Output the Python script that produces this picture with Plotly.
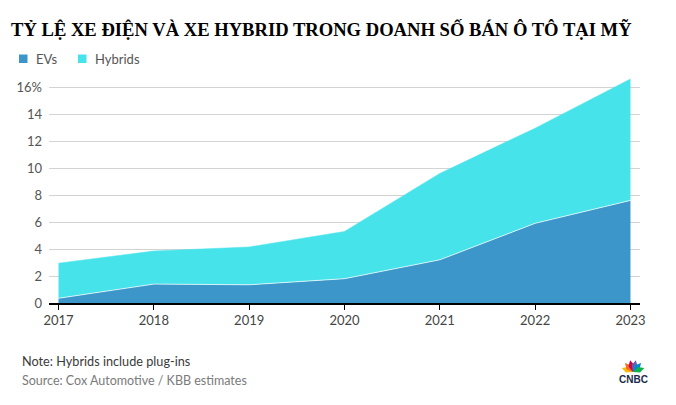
import plotly.graph_objects as go
import math

years = [2017, 2018, 2019, 2020, 2021, 2022, 2023]
evs = [0.35, 1.4, 1.35, 1.8, 3.2, 5.9, 7.6]
hybrids = [2.6, 2.45, 2.8, 3.5, 6.4, 7.05, 9.0]
series_names = ["EVs", "Hybrids"]
series_colors = ["#3c96c9", "#47e3eb"]
y_ticks = [0, 2, 4, 6, 8, 10, 12, 14, 16]
y_ticktext = ["0", "2", "4", "6", "8", "10", "12", "14", "16%"]
title_text = "TỶ LỆ XE ĐIỆN VÀ XE HYBRID TRONG DOANH SỐ BÁN Ô TÔ TẠI MỸ"
note_text = "Note: Hybrids include plug-ins"
source_text = "Source: Cox Automotive / KBB estimates"

W, H = 676, 405
L, R, T, B = 49, 640, 73, 303  # plot area pixels


def px(x):
    return (x - L) / (R - L)


def py(y):
    return (B - y) / (B - T)


fig = go.Figure()
fig.add_trace(go.Scatter(
    x=years, y=evs, name=series_names[0], stackgroup="one", mode="lines",
    line=dict(color="rgba(255,255,255,0.7)", width=1),
    fillcolor=series_colors[0], showlegend=False, hoverinfo="skip"))
fig.add_trace(go.Scatter(
    x=years, y=hybrids, name=series_names[1], stackgroup="one", mode="lines",
    line=dict(color=series_colors[1], width=0.5),
    fillcolor=series_colors[1], showlegend=False, hoverinfo="skip"))

shapes = []
annotations = []
# legend
leg = [(19, 34, series_names[0], series_colors[0]), (78, 93, series_names[1], series_colors[1])]
for sx, tx, name, col in leg:
    shapes.append(dict(type="rect", xref="paper", yref="paper",
                       x0=px(sx), x1=px(sx + 8.5), y0=py(63), y1=py(54.5),
                       fillcolor=col, line=dict(width=0)))
    annotations.append(dict(text=name, xref="paper", yref="paper", x=px(tx), y=py(58.5),
                            xanchor="left", yanchor="middle", showarrow=False,
                            font=dict(family="Lato", size=13, color="#555555")))

annotations.append(dict(text=note_text, xref="paper", yref="paper", x=px(20), y=py(361),
                        xanchor="left", yanchor="middle", showarrow=False,
                        font=dict(family="Lato", size=12.7, color="#3a3a3a")))
annotations.append(dict(text=source_text, xref="paper", yref="paper", x=px(20), y=py(380),
                        xanchor="left", yanchor="middle", showarrow=False,
                        font=dict(family="Lato", size=12.5, color="#7a7a7a")))
# CNBC logo (text + feathers)
annotations.append(dict(text="<b>CNBC</b>", xref="paper", yref="paper", x=px(633), y=py(379.5),
                        xanchor="center", yanchor="middle", showarrow=False,
                        font=dict(family="Liberation Sans", size=10, color="#1a2a4a")))
feather_cols = ["#fcb711", "#f37021", "#cc004c", "#6460aa", "#0089d0", "#0db14b"]
cx, cy = 633, 372
for i, col in enumerate(feather_cols):
    ang = math.radians(160 - i * 28)
    ex, ey = cx + 12 * math.cos(ang), cy - 12 * math.sin(ang)
    nx, ny = -math.sin(ang) * 3, -math.cos(ang) * 3
    path = "M {} {} L {} {} L {} {} L {} {} Z".format(
        px(cx), py(cy),
        px(cx + 6.5 * math.cos(ang) + nx), py(cy - 6.5 * math.sin(ang) + ny),
        px(ex), py(ey),
        px(cx + 6.5 * math.cos(ang) - nx), py(cy - 6.5 * math.sin(ang) - ny))
    shapes.append(dict(type="path", xref="paper", yref="paper", path=path,
                       fillcolor=col, line=dict(width=0)))

fig.update_layout(
    width=W, height=H,
    margin=dict(l=L, r=W - R, t=T, b=H - B, pad=0),
    paper_bgcolor="white", plot_bgcolor="white",
    title=dict(text="<b>" + title_text + "</b>", x=11 / W, xanchor="left",
               y=1 - 29 / H, yanchor="middle", yref="container",
               font=dict(family="Liberation Serif", size=18.6, color="#000000")),
    showlegend=False,
    xaxis=dict(range=[2016.9, 2023.1], tickmode="array", tickvals=years,
               ticktext=[str(y) for y in years], showgrid=False, zeroline=False,
               showline=True, linecolor="#000000", linewidth=1.5,
               ticks="outside", ticklen=5, tickcolor="#000000", tickwidth=1.2,
               tickfont=dict(family="Lato", size=13, color="#444444")),
    yaxis=dict(range=[0, (B - T) / 13.5], tickmode="array", tickvals=y_ticks,
               ticktext=y_ticktext, showgrid=True, gridcolor="#d3d3d3", gridwidth=1,
               zeroline=False, showline=False, ticks="", ticklabelstandoff=6,
               tickfont=dict(family="Lato", size=13, color="#555555")),
    shapes=shapes, annotations=annotations,
)

fig.write_html("out.html")
